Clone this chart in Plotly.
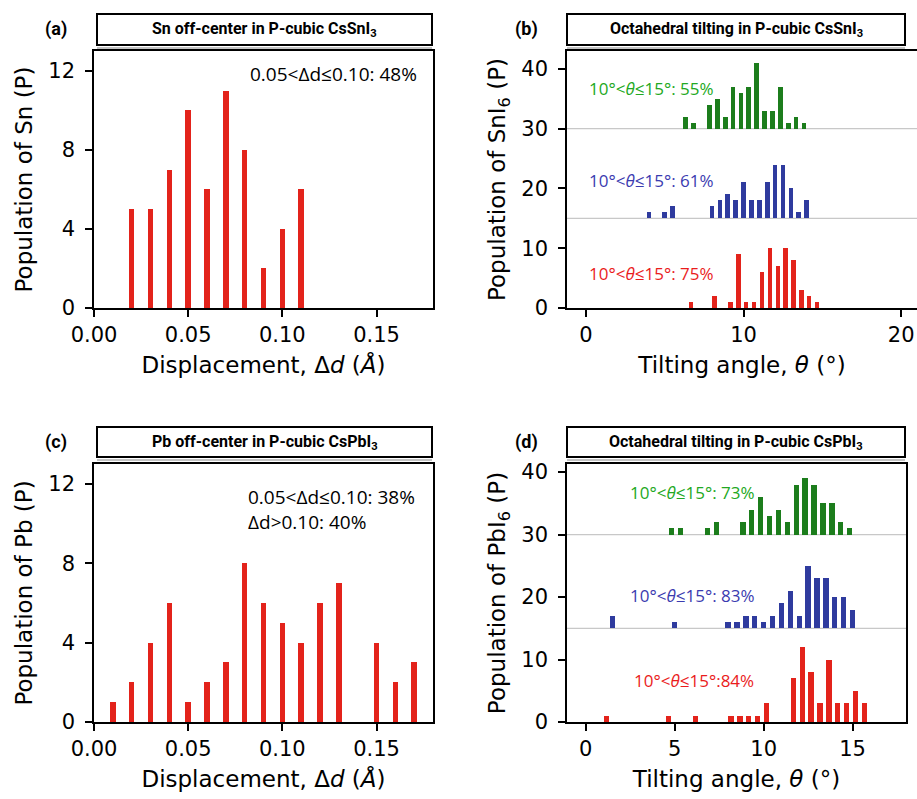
import plotly.graph_objects as go

W, H = 917, 799

# ---------------- data ----------------
# (a) Sn off-centre displacement histogram
a_disp = [0.02, 0.03, 0.04, 0.05, 0.06, 0.07, 0.08, 0.09, 0.10, 0.11]
a_count = [5, 5, 7, 10, 6, 11, 8, 2, 4, 6]

# (c) Pb off-centre displacement histogram
c_disp = [0.01, 0.02, 0.03, 0.04, 0.05, 0.06, 0.07, 0.08, 0.09, 0.10, 0.11, 0.12, 0.13, 0.15, 0.16, 0.17]
c_count = [1, 2, 4, 6, 1, 2, 3, 8, 6, 5, 4, 6, 7, 4, 2, 3]

# (b) SnI6 tilting (three stacked series, offsets 30 / 15 / 0)
b_green_ang = [6.5, 7.0, 8.0, 8.5, 9.0, 9.5, 10.0, 10.5, 11.0, 11.5, 12.0, 12.5, 13.0, 13.5, 14.0]
b_green_cnt = [2, 1, 4, 5, 2, 7, 6, 7, 11, 3, 3, 7, 1, 2, 1]
b_blue_ang = [4.0, 5.0, 5.5, 8.0, 8.5, 9.0, 9.5, 10.0, 10.5, 11.0, 11.5, 12.0, 12.5, 13.0, 13.5, 14.0]
b_blue_cnt = [1, 1, 2, 2, 3, 4, 3, 6, 3, 3, 6, 9, 9, 5, 1, 3]
b_red_ang = [6.5, 8.0, 9.0, 9.5, 10.0, 10.5, 11.0, 11.5, 12.0, 12.5, 13.0, 13.5, 14.0, 14.5]
b_red_cnt = [1, 2, 1, 9, 1, 1, 6, 10, 7, 10, 8, 3, 2, 1]

# (d) PbI6 tilting
d_green_ang = [5.0, 5.5, 7.0, 7.5, 9.0, 9.5, 10.0, 10.5, 11.0, 11.5, 12.0, 12.5, 13.0, 13.5, 14.0, 14.5, 15.0]
d_green_cnt = [1, 1, 1, 2, 2, 4, 6, 3, 4, 2, 8, 9, 8, 5, 5, 2, 1]
d_blue_ang = [1.5, 5.0, 8.0, 8.5, 9.0, 9.5, 10.0, 10.5, 11.0, 11.5, 12.0, 12.5, 13.0, 13.5, 14.0, 14.5, 15.0]
d_blue_cnt = [2, 1, 1, 1, 2, 2, 1, 2, 4, 6, 2, 10, 8, 8, 5, 5, 3]
d_red_ang = [1.0, 4.5, 6.0, 8.0, 8.5, 9.0, 9.5, 10.0, 11.5, 12.0, 12.5, 13.0, 13.5, 14.0, 14.5, 15.0, 15.5]
d_red_cnt = [1, 1, 1, 1, 1, 1, 1, 3, 7, 12, 8, 3, 10, 3, 3, 5, 3]

offsets = {"green": 30, "blue": 15, "red": 0}

titles = ["Sn off-center in P-cubic CsSnI<sub>3</sub>",
          "Octahedral tilting in P-cubic CsSnI<sub>3</sub>",
          "Pb off-center in P-cubic CsPbI<sub>3</sub>",
          "Octahedral tilting in P-cubic CsPbI<sub>3</sub>"]
panel_labels = ["(a)", "(b)", "(c)", "(d)"]

RED = "#e3231b"
GREEN = "#1c7d1c"
BLUE = "#2f3b9e"
TXT_GREEN = "#22a822"
TXT_BLUE = "#3b3bb0"
TXT_RED = "#ea1c1c"

def px(x):
    return x / W

def py(y):
    return 1 - y / H

# panel pixel boxes: (left, right, top, bottom)
boxes = {
    "a": (94, 433, 51, 308),
    "b": (567, 917, 51, 308),
    "c": (94, 433, 464, 722),
    "d": (567, 906, 464, 722),
}
title_boxes = {
    "a": (97, 432, 14, 45),
    "b": (567, 905, 14, 45),
    "c": (97, 432, 427, 457),
    "d": (567, 905, 427, 457),
}

fig = go.Figure()

axis_font = dict(family="DejaVu Sans", size=21, color="black")
title_font = dict(family="DejaVu Sans", size=23, color="black")

def add_bar(x, y, width, color, xa, ya, base=0):
    fig.add_trace(go.Bar(x=x, y=y, base=[base] * len(y), width=width,
                         marker=dict(color=color, line=dict(width=0)),
                         xaxis=xa, yaxis=ya, showlegend=False))

add_bar(a_disp, a_count, 0.003, RED, "x", "y")
add_bar(b_green_ang, b_green_cnt, 0.3, GREEN, "x2", "y2", offsets["green"])
add_bar(b_blue_ang, b_blue_cnt, 0.3, BLUE, "x2", "y2", offsets["blue"])
add_bar(b_red_ang, b_red_cnt, 0.28, RED, "x2", "y2", offsets["red"])
add_bar(c_disp, c_count, 0.003, RED, "x3", "y3")
add_bar(d_green_ang, d_green_cnt, 0.3, GREEN, "x4", "y4", offsets["green"])
add_bar(d_blue_ang, d_blue_cnt, 0.3, BLUE, "x4", "y4", offsets["blue"])
add_bar(d_red_ang, d_red_cnt, 0.3, RED, "x4", "y4", offsets["red"])

def ax_common():
    return dict(showline=True, linecolor="black", linewidth=1.5, mirror=True,
                ticks="outside", ticklen=7, tickwidth=1.5, tickcolor="black",
                showgrid=False, zeroline=False, tickfont=axis_font, automargin=False)

layout = dict(template="none", width=W, height=H, margin=dict(l=0, r=0, t=0, b=0),
              paper_bgcolor="white", plot_bgcolor="white", bargap=0,
              font=dict(family="DejaVu Sans", color="black"))

keys = ["a", "b", "c", "d"]
xr = {"a": [0, 0.18], "b": [-1.2, 21], "c": [0, 0.18], "d": [-1.05, 18]}
yr = {"a": [0, 13], "b": [0, 43], "c": [0, 13], "d": [0, 41.3]}
xtv = {"a": [0, 0.05, 0.10, 0.15], "b": [0, 10, 20], "c": [0, 0.05, 0.10, 0.15], "d": [0, 5, 10, 15]}
xtt = {"a": ["0.00", "0.05", "0.10", "0.15"], "b": ["0", "10", "20"],
       "c": ["0.00", "0.05", "0.10", "0.15"], "d": ["0", "5", "10", "15"]}
ytv = {"a": [0, 4, 8, 12], "b": [0, 10, 20, 30, 40], "c": [0, 4, 8, 12], "d": [0, 10, 20, 30, 40]}
xtitle = {"a": "Displacement, Δ<i>d</i> (<i>Å</i>)", "b": "Tilting angle, <i>θ</i> (°)",
          "c": "Displacement, Δ<i>d</i> (<i>Å</i>)", "d": "Tilting angle, <i>θ</i> (°)"}
ytitle = {"a": "Population of Sn (P)", "b": "Population of SnI<sub>6</sub> (P)",
          "c": "Population of Pb (P)", "d": "Population of PbI<sub>6</sub> (P)"}

for i, k in enumerate(keys):
    l, r, t, b = boxes[k]
    sfx = "" if i == 0 else str(i + 1)
    xa = ax_common()
    xa.update(domain=[px(l), px(r)], range=xr[k], tickvals=xtv[k], ticktext=xtt[k],
              anchor="y" + sfx,
              title=dict(text=xtitle[k], font=title_font, standoff=11))
    ya = ax_common()
    ya.update(domain=[py(b), py(t)], range=yr[k], tickvals=ytv[k],
              anchor="x" + sfx, ticklabelstandoff=6,
              title=dict(text=ytitle[k], font=title_font, standoff=9))
    layout["xaxis" + sfx] = xa
    layout["yaxis" + sfx] = ya

fig.update_layout(**layout)

shapes = []
annotations = []
# title boxes and panel letters
for i, k in enumerate(keys):
    l, r, t, b = title_boxes[k]
    shapes.append(dict(type="rect", xref="paper", yref="paper",
                       x0=px(l), x1=px(r), y0=py(b), y1=py(t),
                       line=dict(color="black", width=2), fillcolor="white", layer="above"))
    shapes.append(dict(type="line", xref="paper", yref="paper",
                       x0=px(l), x1=px(r), y0=py(b + 3), y1=py(b + 3),
                       line=dict(color="#888888", width=1)))
    annotations.append(dict(xref="paper", yref="paper", x=px((l + r) / 2), y=py((t + b) / 2),
                            text="<b>" + titles[i] + "</b>", showarrow=False,
                            font=dict(family="Liberation Sans Narrow, Arial Narrow, Roboto, sans-serif",
                                      size=16, color="black"),
                            xanchor="center", yanchor="middle"))
    annotations.append(dict(xref="paper", yref="paper", x=px(l - 41), y=py((t + b) / 2),
                            text="<b>" + panel_labels[i] + "</b>", showarrow=False,
                            font=dict(family="Liberation Sans Narrow, Arial Narrow, Roboto, sans-serif",
                                      size=18, color="black"),
                            xanchor="center", yanchor="middle"))

# baseline reference lines
for sfx in ["2", "4"]:
    for yv in [offsets["green"], offsets["blue"]]:
        shapes.append(dict(type="line", xref="x" + sfx + " domain", yref="y" + sfx,
                           x0=0, x1=1, y0=yv, y1=yv,
                           line=dict(color="#c8c8c8", width=1.2), layer="below"))

note_font = dict(family="Open Sans, sans-serif", size=19, color="black")
annotations += [
    dict(xref="x", yref="y", x=0.0818, y=11.84, text="0.05&lt;Δd≤0.10: 48%",
         showarrow=False, font=note_font, xanchor="left", yanchor="middle"),
    dict(xref="x3", yref="y3", x=0.0807, y=10.73,
         text="0.05&lt;Δd≤0.10: 38%<br>Δd&gt;0.10: 40%", align="left",
         showarrow=False, font=note_font, xanchor="left", yanchor="middle"),
]

def pct(xref, yref, x, y, txt, color):
    return dict(xref=xref, yref=yref, x=x, y=y, text=txt, showarrow=False,
                font=dict(family="Open Sans, sans-serif", size=17, color=color),
                xanchor="left", yanchor="middle")

annotations += [
    pct("x2", "y2", 0.06, 36.7, "10°&lt;<i>θ</i>≤15°: 55%", TXT_GREEN),
    pct("x2", "y2", 0.06, 21.3, "10°&lt;<i>θ</i>≤15°: 61%", TXT_BLUE),
    pct("x2", "y2", 0.06, 5.8, "10°&lt;<i>θ</i>≤15°: 75%", TXT_RED),
    pct("x4", "y4", 2.38, 36.8, "10°&lt;<i>θ</i>≤15°: 73%", TXT_GREEN),
    pct("x4", "y4", 2.38, 20.2, "10°&lt;<i>θ</i>≤15°: 83%", TXT_BLUE),
    pct("x4", "y4", 2.6, 6.7, "10°&lt;<i>θ</i>≤15°:84%", TXT_RED),
]

fig.update_layout(shapes=shapes, annotations=annotations)
fig.write_html("out.html")
